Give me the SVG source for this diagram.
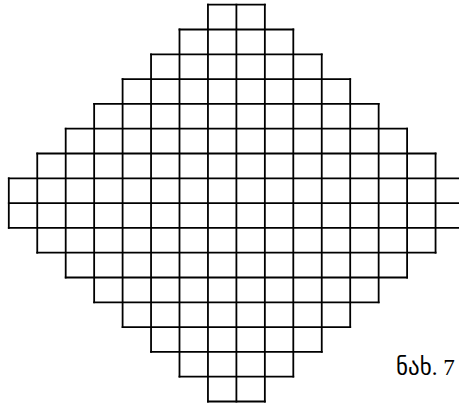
<svg xmlns="http://www.w3.org/2000/svg" width="459" height="406" viewBox="0 0 459 406">
<style>
.g line{stroke:#000;stroke-width:1.8;stroke-linecap:square}
.lbl{font-family:"Liberation Serif","DejaVu Sans",serif;font-size:23px;fill:#000}
.geo{font-family:"DejaVu Sans",sans-serif;font-size:23px}
</style>
<rect width="459" height="406" fill="#fff"/>
<g id="grid" class="g">
<line x1="207.95" y1="4.7" x2="264.85" y2="4.7"/>
<line x1="179.5" y1="29.5" x2="293.3" y2="29.5"/>
<line x1="151.05" y1="54.3" x2="321.75" y2="54.3"/>
<line x1="122.6" y1="79.1" x2="350.2" y2="79.1"/>
<line x1="94.15" y1="103.9" x2="378.65" y2="103.9"/>
<line x1="65.7" y1="128.7" x2="407.1" y2="128.7"/>
<line x1="37.25" y1="153.5" x2="435.55" y2="153.5"/>
<line x1="8.8" y1="178.3" x2="464" y2="178.3"/>
<line x1="8.8" y1="203.1" x2="464" y2="203.1"/>
<line x1="8.8" y1="227.9" x2="464" y2="227.9"/>
<line x1="37.25" y1="252.7" x2="435.55" y2="252.7"/>
<line x1="65.7" y1="277.5" x2="407.1" y2="277.5"/>
<line x1="94.15" y1="302.3" x2="378.65" y2="302.3"/>
<line x1="122.6" y1="327.1" x2="350.2" y2="327.1"/>
<line x1="151.05" y1="351.9" x2="321.75" y2="351.9"/>
<line x1="179.5" y1="376.7" x2="293.3" y2="376.7"/>
<line x1="207.95" y1="401.5" x2="264.85" y2="401.5"/>
<line x1="8.8" y1="178.3" x2="8.8" y2="227.9"/>
<line x1="37.25" y1="153.5" x2="37.25" y2="252.7"/>
<line x1="65.7" y1="128.7" x2="65.7" y2="277.5"/>
<line x1="94.15" y1="103.9" x2="94.15" y2="302.3"/>
<line x1="122.6" y1="79.1" x2="122.6" y2="327.1"/>
<line x1="151.05" y1="54.3" x2="151.05" y2="351.9"/>
<line x1="179.5" y1="29.5" x2="179.5" y2="376.7"/>
<line x1="207.95" y1="4.7" x2="207.95" y2="401.5"/>
<line x1="236.4" y1="4.7" x2="236.4" y2="401.5"/>
<line x1="264.85" y1="4.7" x2="264.85" y2="401.5"/>
<line x1="293.3" y1="29.5" x2="293.3" y2="376.7"/>
<line x1="321.75" y1="54.3" x2="321.75" y2="351.9"/>
<line x1="350.2" y1="79.1" x2="350.2" y2="327.1"/>
<line x1="378.65" y1="103.9" x2="378.65" y2="302.3"/>
<line x1="407.1" y1="128.7" x2="407.1" y2="277.5"/>
<line x1="435.55" y1="153.5" x2="435.55" y2="252.7"/>
<line x1="464" y1="178.3" x2="464" y2="227.9"/>
</g>
<text class="lbl" x="396" y="375"><tspan class="geo">ნახ</tspan>. 7</text>
</svg>
